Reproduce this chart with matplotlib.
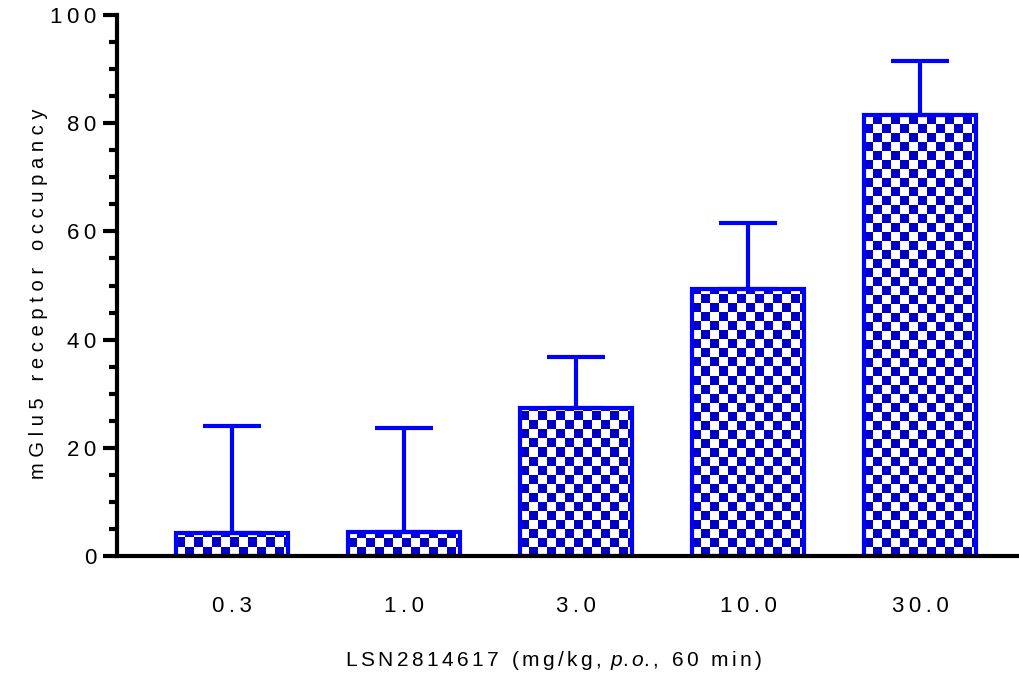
import numpy as np
import matplotlib
matplotlib.use("Agg")
import matplotlib.pyplot as plt

plt.rcParams['font.family'] = ['Liberation Sans', 'DejaVu Sans']
plt.rcParams['mathtext.fontset'] = 'custom'
plt.rcParams['mathtext.rm'] = 'Liberation Sans'
plt.rcParams['mathtext.it'] = 'Liberation Sans:italic'

# data
doses = ['0.3', '1.0', '3.0', '10.0', '30.0']
occupancy = [4.3, 4.4, 27.4, 49.4, 81.5]
sem = [19.7, 19.3, 9.4, 12.2, 10.0]

blue = '#0000ff'
dark = '#0000c8'


def spaced(s, sep='\u2009'):
    return sep.join(s)


fig = plt.figure(figsize=(10.2, 6.73), dpi=100)
ax = fig.add_axes([117 / 1020, 1 - 556 / 673, 1 - 117 / 1020, (556 - 15) / 673])

x = np.arange(len(doses))
bars = ax.bar(x, occupancy, width=0.65, color='none', edgecolor=blue,
              linewidth=3, zorder=3)
ax.errorbar(x, occupancy, yerr=[np.zeros(len(sem)), sem], fmt='none',
            ecolor=blue, elinewidth=3, capsize=21, capthick=3, zorder=2)

# checkerboard fill, ~9 px squares
sq_x = 9 / 172
sq_y = 9 / 5.41
nx, ny = 110, 70
checker = (np.add.outer(np.arange(ny), np.arange(nx)) % 2).astype(float)
cmap = matplotlib.colors.ListedColormap(['white', dark])
for b in bars:
    x0 = b.get_x()
    im = ax.imshow(checker, cmap=cmap, interpolation='none', origin='lower',
                   extent=(x0, x0 + nx * sq_x, 0, ny * sq_y), aspect='auto',
                   zorder=1)
    im.set_clip_path(b)
ax.set_xlim(-0.67, 4.58)
ax.set_ylim(0, 100)

for s in ['top', 'right']:
    ax.spines[s].set_visible(False)
ax.spines['left'].set_linewidth(3)
ax.spines['bottom'].set_linewidth(3)
ax.spines['bottom'].set_zorder(5)

ax.set_yticks(np.arange(0, 101, 20))
ax.set_yticks(np.arange(0, 101, 5), minor=True)
ax.set_yticklabels([spaced(str(v)) for v in range(0, 101, 20)], fontsize=16)
ax.tick_params(axis='y', which='major', length=10, width=3, direction='out', pad=5)
ax.tick_params(axis='y', which='minor', length=6, width=3, direction='out')

ax.set_xticks(x)
ax.set_xticklabels([spaced(d) for d in doses], fontsize=16)
ax.tick_params(axis='x', length=0, pad=29)

ax.set_ylabel(spaced('mGlu5 receptor occupancy', '\u2009\u200a'), fontsize=14.5)
ax.yaxis.set_label_coords(-0.0764, 0.484)
hs = '\u200a\u200a'
ax.set_xlabel(spaced('LSN2814617 (mg/kg, ', hs) + r'$p.o.$' + spaced(', 60 min)', hs),
              fontsize=15)
ax.xaxis.set_label_coords(0.484, -0.172)

fig.savefig('out.png', dpi=100)
